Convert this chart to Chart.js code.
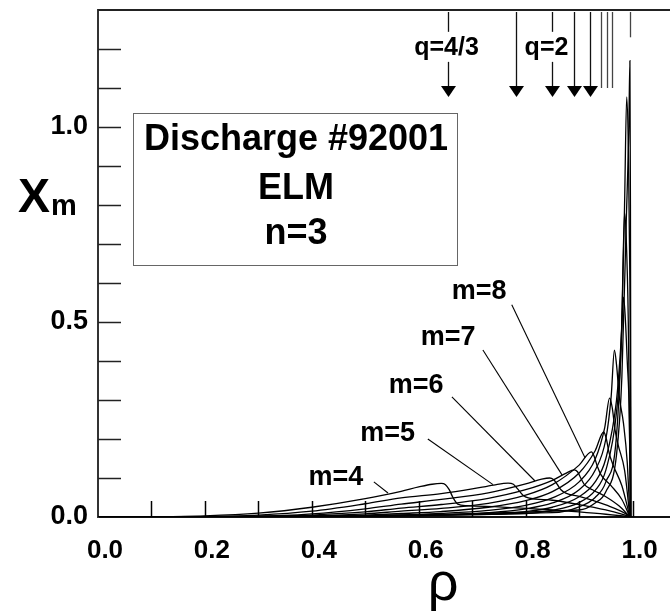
<!DOCTYPE html>
<html>
<head>
<meta charset="utf-8">
<script src="https://cdn.jsdelivr.net/npm/chart.js@4.4.0/dist/chart.umd.min.js"></script>
<style>
  html, body { margin: 0; padding: 0; background: #fff; }
</style>
</head>
<body>
<canvas id="chiChart" width="670" height="615"></canvas>
<script>
// mode amplitudes chi_m versus rho ([rho, chi])
var m4 = [[0,0],[0.1,0.0006],[0.2,0.003],[0.3,0.01],[0.4,0.025],[0.5,0.047],[0.567,0.066],[0.6,0.077],[0.625,0.084],[0.642,0.086],[0.65,0.083],[0.657,0.07],[0.664,0.05],[0.673,0.033],[0.69,0.029],[0.75,0.026],[0.8,0.022],[0.85,0.018],[0.9,0.013],[0.95,0.007],[0.99,0.001],[0.995,0]];
var m5 = [[0,0],[0.2,0.0012],[0.3,0.005],[0.4,0.015],[0.5,0.034],[0.567,0.049],[0.642,0.06],[0.7,0.072],[0.74,0.082],[0.767,0.087],[0.777,0.084],[0.785,0.072],[0.795,0.056],[0.805,0.049],[0.85,0.043],[0.9,0.032],[0.95,0.018],[0.99,0.003],[0.995,0]];
var m6 = [[0,0],[0.3,0.002],[0.4,0.008],[0.5,0.021],[0.567,0.033],[0.642,0.045],[0.73,0.062],[0.8,0.085],[0.83,0.097],[0.845,0.1],[0.852,0.096],[0.859,0.084],[0.866,0.07],[0.875,0.061],[0.9,0.053],[0.95,0.031],[0.99,0.006],[0.995,0]];
var m7 = [[0,0],[0.3,0.001],[0.4,0.005],[0.5,0.013],[0.567,0.023],[0.642,0.032],[0.73,0.048],[0.8,0.07],[0.85,0.094],[0.875,0.112],[0.891,0.121],[0.897,0.116],[0.903,0.1],[0.91,0.083],[0.925,0.07],[0.95,0.052],[0.975,0.028],[0.995,0]];
var m8 = [[0,0],[0.4,0.003],[0.5,0.008],[0.567,0.015],[0.642,0.022],[0.73,0.035],[0.8,0.056],[0.85,0.083],[0.9,0.133],[0.923,0.167],[0.928,0.156],[0.934,0.13],[0.941,0.108],[0.96,0.08],[0.98,0.045],[0.995,0]];
var m9 = [[0,0],[0.5,0.005],[0.567,0.009],[0.642,0.014],[0.73,0.025],[0.8,0.042],[0.85,0.065],[0.9,0.113],[0.93,0.17],[0.946,0.218],[0.951,0.2],[0.956,0.165],[0.963,0.135],[0.98,0.08],[0.995,0]];
var m10 = [[0,0],[0.567,0.005],[0.642,0.009],[0.73,0.017],[0.8,0.03],[0.85,0.049],[0.9,0.09],[0.93,0.148],[0.948,0.23],[0.957,0.305],[0.962,0.28],[0.967,0.225],[0.973,0.185],[0.985,0.12],[0.995,0]];
var m11 = [[0,0],[0.642,0.005],[0.73,0.011],[0.8,0.021],[0.85,0.036],[0.9,0.07],[0.93,0.12],[0.95,0.2],[0.96,0.31],[0.966,0.428],[0.97,0.39],[0.975,0.31],[0.983,0.24],[0.99,0.14],[0.995,0]];
var m12 = [[0,0],[0.73,0.007],[0.8,0.014],[0.85,0.025],[0.9,0.052],[0.93,0.09],[0.95,0.15],[0.97,0.3],[0.978,0.44],[0.983,0.564],[0.986,0.52],[0.99,0.4],[0.994,0.25],[0.996,0]];
var m13 = [[0,0],[0.8,0.009],[0.85,0.017],[0.9,0.037],[0.93,0.068],[0.95,0.12],[0.97,0.27],[0.979,0.45],[0.985,0.78],[0.988,0.72],[0.992,0.5],[0.996,0]];
var m14 = [[0,0],[0.85,0.011],[0.9,0.026],[0.93,0.05],[0.95,0.09],[0.97,0.21],[0.98,0.5],[0.985,0.8],[0.989,1.077],[0.992,0.95],[0.995,0.6],[0.997,0]];
var m15 = [[0,0],[0.9,0.018],[0.93,0.036],[0.95,0.065],[0.97,0.16],[0.98,0.36],[0.988,0.75],[0.993,1.0],[0.995,1.17],[0.996,0.8],[0.997,0]];

var curves = [m4, m5, m6, m7, m8, m9, m10, m11, m12, m13, m14, m15];

// axis ticks
var xLabelTicks = [0, 0.2, 0.4, 0.6, 0.8, 1.0];
var xTickMarks = [0.1, 0.2, 0.3, 0.4, 0.5, 0.6, 0.7, 0.8, 0.9, 1.0];
var yLabelTicks = [0, 0.5, 1.0];
var yTickMarks = [0.1, 0.2, 0.3, 0.4, 0.5, 0.6, 0.7, 0.8, 0.9, 1.0, 1.1, 1.2];

// rational surfaces q = m/n (rho position), arrows on the first five
var qRho = [0.655, 0.782, 0.849, 0.890, 0.920, 0.941, 0.952, 0.961, 0.995];
var qArrow = [true, true, true, true, true, false, false, false, false];
var qLabels = ['q=4/3', '', 'q=2', '', '', '', '', '', ''];

var modeLabels = ['m=4', 'm=5', 'm=6', 'm=7', 'm=8'];
var boxLines = ['Discharge #92001', 'ELM', 'n=3'];

var FONT = '"Liberation Sans", Arial, sans-serif';

var datasets = [];
for (var i = 0; i < curves.length; i++) {
    datasets.push({
        label: 'm=' + (i + 4),
        data: curves[i].map(function (p) { return {x: p[0], y: p[1]}; }),
        borderColor: '#000',
        borderWidth: 1.3,
        pointRadius: 0,
        fill: false,
        cubicInterpolationMode: 'monotone'
    });
}

function line(ctx, x1, y1, x2, y2) {
    ctx.beginPath();
    ctx.moveTo(x1, y1);
    ctx.lineTo(x2, y2);
    ctx.stroke();
}

function noPad(s) {
    s.paddingTop = 0; s.paddingBottom = 0; s.paddingLeft = 0; s.paddingRight = 0;
}

var extras = {
    id: 'extras',
    afterDraw: function (chart) {
        var ctx = chart.ctx;
        var a = chart.chartArea;
        var xs = chart.scales.x, ys = chart.scales.y;
        ctx.save();

        // top frame line
        ctx.strokeStyle = '#222';
        ctx.lineWidth = 2;
        line(ctx, a.left, a.top, a.right, a.top);

        // inward tick marks
        ctx.lineWidth = 1.5;
        yTickMarks.forEach(function (v) {
            var py = Math.round(ys.getPixelForValue(v)) + 0.5;
            line(ctx, a.left, py, a.left + 23, py);
        });
        ctx.strokeStyle = '#000';
        xTickMarks.forEach(function (v) {
            var px = Math.round(xs.getPixelForValue(v)) + 0.5;
            line(ctx, px, a.bottom, px, a.bottom - 16);
        });

        // rational surface markers
        var yTop = ys.getPixelForValue(1.3);
        var gapTop = ys.getPixelForValue(1.244), gapBot = ys.getPixelForValue(1.167);
        ctx.font = 'bold 25px ' + FONT;
        ctx.textAlign = 'center';
        ctx.textBaseline = 'middle';
        qRho.forEach(function (r, i) {
            var px = Math.round(xs.getPixelForValue(r)) + 0.5;
            var end = qArrow[i] ? ys.getPixelForValue(1.077) - 9 : ys.getPixelForValue(1.10);
            if (i === qRho.length - 1) end = ys.getPixelForValue(1.23);
            ctx.strokeStyle = qArrow[i] ? '#111' : '#444';
            ctx.lineWidth = 1.3;
            if (qLabels[i]) {
                line(ctx, px, yTop + 2, px, gapTop);
                line(ctx, px, gapBot, px, end);
                ctx.fillStyle = '#000';
                ctx.fillText(qLabels[i], px - (i === 0 ? 2 : 6), (gapTop + gapBot) / 2 + 1);
            } else {
                line(ctx, px, yTop + 2, px, end);
            }
            if (qArrow[i]) {
                var tip = ys.getPixelForValue(1.077);
                ctx.fillStyle = '#000';
                ctx.beginPath();
                ctx.moveTo(px - 7.5, tip - 11);
                ctx.lineTo(px + 7.5, tip - 11);
                ctx.lineTo(px, tip);
                ctx.closePath();
                ctx.fill();
            }
        });

        // mode labels with leader lines (data coordinates)
        var lab = [[0.445, 0.100], [0.542, 0.213], [0.595, 0.338], [0.655, 0.459], [0.713, 0.577]];
        var lead = [[0.516, 0.090, 0.5425, 0.0615], [0.617, 0.200, 0.739, 0.083],
                    [0.662, 0.308, 0.8175, 0.0923], [0.720, 0.428, 0.868, 0.108],
                    [0.774, 0.544, 0.911, 0.152]];
        ctx.strokeStyle = '#000';
        ctx.lineWidth = 1.1;
        lead.forEach(function (l) {
            line(ctx, xs.getPixelForValue(l[0]), ys.getPixelForValue(l[1]),
                      xs.getPixelForValue(l[2]), ys.getPixelForValue(l[3]));
        });
        ctx.fillStyle = '#000';
        ctx.font = 'bold 27px ' + FONT;
        modeLabels.forEach(function (t, i) {
            ctx.fillText(t, xs.getPixelForValue(lab[i][0]), ys.getPixelForValue(lab[i][1]));
        });

        // text box
        ctx.strokeStyle = '#666';
        ctx.lineWidth = 1;
        ctx.strokeRect(133.5, 113.5, 324, 152);
        ctx.font = 'bold 36px ' + FONT;
        var rows = [140, 189, 234];
        boxLines.forEach(function (t, i) {
            ctx.fillText(t, 296, rows[i]);
        });

        // axis titles
        ctx.textAlign = 'left';
        ctx.textBaseline = 'alphabetic';
        ctx.font = 'bold 48px ' + FONT;
        ctx.fillText('X', 18, 212);
        ctx.font = 'bold 29px ' + FONT;
        ctx.fillText('m', 51, 215);
        ctx.textAlign = 'center';
        ctx.font = '54px ' + FONT;
        ctx.fillText('\u03c1', 443, 600);

        ctx.restore();
    }
};

var context = document.getElementById('chiChart').getContext('2d');
var myChart = new Chart(context, {
    type: 'line',
    data: { datasets: datasets },
    options: {
        responsive: false,
        animation: false,
        layout: { padding: { top: 10, left: 0, right: 0, bottom: 0 } },
        plugins: { legend: { display: false }, tooltip: { enabled: false } },
        scales: {
            x: {
                type: 'linear',
                min: 0,
                max: 1.07,
                grid: { display: false, drawTicks: false },
                border: { display: true, color: '#111', width: 2 },
                afterFit: function (s) { s.height = 98; noPad(s); },
                afterBuildTicks: function (s) { s.ticks = xLabelTicks.map(function (v) { return {value: v}; }); },
                ticks: {
                    padding: 18,
                    labelOffset: 7,
                    autoSkip: false,
                    maxRotation: 0,
                    color: '#000',
                    font: { family: FONT, size: 26, weight: 'bold' },
                    callback: function (v) { return Number(v).toFixed(1); }
                }
            },
            y: {
                type: 'linear',
                min: 0,
                max: 1.3,
                grid: { display: false, drawTicks: false },
                border: { display: true, color: '#333', width: 2 },
                afterFit: function (s) { s.width = 98; noPad(s); },
                afterBuildTicks: function (s) { s.ticks = yLabelTicks.map(function (v) { return {value: v}; }); },
                ticks: {
                    padding: 10,
                    autoSkip: false,
                    color: '#000',
                    font: { family: FONT, size: 27, weight: 'bold' },
                    callback: function (v) { return Number(v).toFixed(1); }
                }
            }
        }
    },
    plugins: [extras]
});
</script>
</body>
</html>
